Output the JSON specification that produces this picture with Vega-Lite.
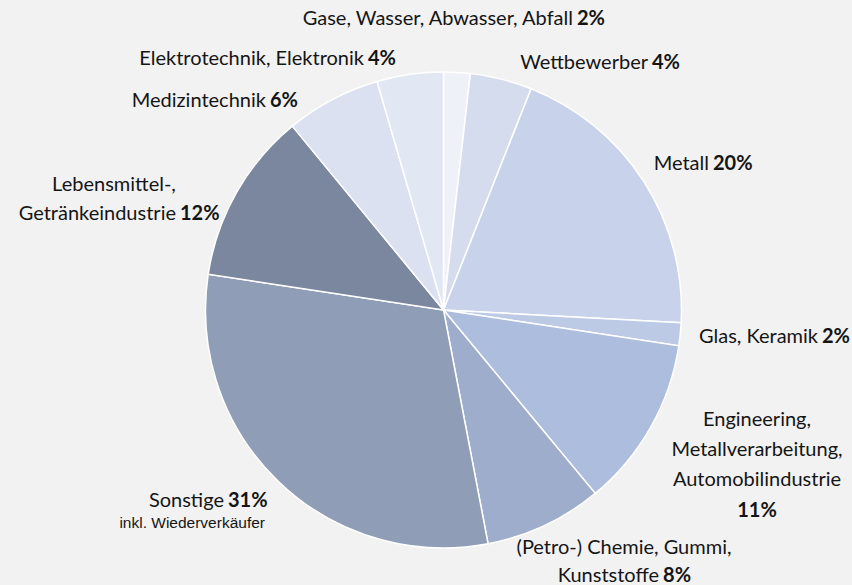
{
 "$schema": "https://vega.github.io/schema/vega-lite/v6.json",
 "width": 817, "height": 550,
 "autosize": {"type": "none"},
 "padding": {"left": 35, "top": 35, "right": 0, "bottom": 0},
 "background": "#f2f2f2",
 "config": {"view": {"stroke": null}, "text": {"font": "Lato", "fontSize": 20, "color": "#151515", "baseline": "alphabetic", "radius": 265}},
 "data": {"values": [
  {"id": "gase", "order": 1, "value": 1.8, "name": "Gase, Wasser, Abwasser, Abfall", "pct": "2%"},
  {"id": "wett", "order": 2, "value": 4.2, "name": "Wettbewerber", "pct": "4%"},
  {"id": "metall", "order": 3, "value": 19.85, "name": "Metall", "pct": "20%"},
  {"id": "glas", "order": 4, "value": 1.55, "name": "Glas, Keramik", "pct": "2%"},
  {"id": "eng", "order": 5, "value": 11.6, "head": ["Engineering,", "Metallverarbeitung,", "Automobilindustrie"], "name": "", "pct": "11%"},
  {"id": "chem", "order": 6, "value": 8.0, "head": "(Petro-) Chemie, Gummi,", "name": "Kunststoffe", "pct": "8%"},
  {"id": "sonst", "order": 7, "value": 30.4, "name": "Sonstige", "pct": "31%", "note": "inkl. Wiederverkäufer"},
  {"id": "lebens", "order": 8, "value": 11.65, "head": "Lebensmittel-,", "name": "Getränkeindustrie", "pct": "12%"},
  {"id": "med", "order": 9, "value": 6.45, "name": "Medizintechnik", "pct": "6%"},
  {"id": "elek", "order": 10, "value": 4.5, "name": "Elektrotechnik, Elektronik", "pct": "4%"}
 ]},
 "encoding": {
  "theta": {"field": "value", "type": "quantitative", "stack": true},
  "order": {"field": "order", "type": "quantitative"},
  "detail": {"field": "id", "type": "nominal"}
 },
 "layer": [
  {"mark": {"type": "arc", "outerRadius": 238, "stroke": "#ffffff", "strokeWidth": 1.5},
   "encoding": {"color": {"field": "id", "type": "nominal", "legend": null,
     "scale": {"domain": ["gase", "wett", "metall", "glas", "eng", "chem", "sonst", "lebens", "med", "elek"],
               "range": ["#eef2f8", "#d5dcee", "#c8d3eb", "#bdcae6", "#acbddd", "#9eadcb", "#8f9db6", "#7b879e", "#dbe1f1", "#e2e7f4"]}}}},

  {"mark": {"type": "text", "align": "right", "dx": 114.5, "dy": -20.4}, "encoding": {"text": {"condition": {"test": "datum.id === 'gase'", "field": "name"}, "value": ""}}},
  {"mark": {"type": "text", "align": "left", "fontWeight": "bold", "dx": 118.5, "dy": -20.4}, "encoding": {"text": {"condition": {"test": "datum.id === 'gase'", "field": "pct"}, "value": ""}}},

  {"mark": {"type": "text", "align": "right", "dx": 140.2, "dy": 16.4}, "encoding": {"text": {"condition": {"test": "datum.id === 'wett'", "field": "name"}, "value": ""}}},
  {"mark": {"type": "text", "align": "left", "fontWeight": "bold", "dx": 144.2, "dy": 16.4}, "encoding": {"text": {"condition": {"test": "datum.id === 'wett'", "field": "pct"}, "value": ""}}},

  {"mark": {"type": "text", "align": "right", "dx": 42.4, "dy": 3}, "encoding": {"text": {"condition": {"test": "datum.id === 'metall'", "field": "name"}, "value": ""}}},
  {"mark": {"type": "text", "align": "left", "fontWeight": "bold", "dx": 46.4, "dy": 3}, "encoding": {"text": {"condition": {"test": "datum.id === 'metall'", "field": "pct"}, "value": ""}}},

  {"mark": {"type": "text", "align": "right", "dx": 110.9, "dy": 6}, "encoding": {"text": {"condition": {"test": "datum.id === 'glas'", "field": "name"}, "value": ""}}},
  {"mark": {"type": "text", "align": "left", "fontWeight": "bold", "dx": 114.9, "dy": 6}, "encoding": {"text": {"condition": {"test": "datum.id === 'glas'", "field": "pct"}, "value": ""}}},

  {"mark": {"type": "text", "align": "center", "dx": 82.9, "dy": -14.6, "lineHeight": 30}, "encoding": {"text": {"condition": {"test": "datum.id === 'eng'", "field": "head"}, "value": ""}}},
  {"mark": {"type": "text", "align": "center", "fontWeight": "bold", "dx": 82.9, "dy": 76.4}, "encoding": {"text": {"condition": {"test": "datum.id === 'eng'", "field": "pct"}, "value": ""}}},

  {"mark": {"type": "text", "align": "center", "dx": 67.7, "dy": 4.2}, "encoding": {"text": {"condition": {"test": "datum.id === 'chem'", "field": "head"}, "value": ""}}},
  {"mark": {"type": "text", "align": "right", "dx": 102.7, "dy": 32.2}, "encoding": {"text": {"condition": {"test": "datum.id === 'chem'", "field": "name"}, "value": ""}}},
  {"mark": {"type": "text", "align": "left", "fontWeight": "bold", "dx": 106.7, "dy": 32.2}, "encoding": {"text": {"condition": {"test": "datum.id === 'chem'", "field": "pct"}, "value": ""}}},

  {"mark": {"type": "text", "align": "right", "dx": -35.7, "dy": 6.1}, "encoding": {"text": {"condition": {"test": "datum.id === 'sonst'", "field": "name"}, "value": ""}}},
  {"mark": {"type": "text", "align": "left", "fontWeight": "bold", "dx": -31.7, "dy": 6.1}, "encoding": {"text": {"condition": {"test": "datum.id === 'sonst'", "field": "pct"}, "value": ""}}},
  {"mark": {"type": "text", "align": "right", "font": "Liberation Sans", "fontSize": 15.5, "dx": 5.3, "dy": 27.1}, "encoding": {"text": {"condition": {"test": "datum.id === 'sonst'", "field": "note"}, "value": ""}}},

  {"mark": {"type": "text", "align": "center", "dx": -99.1, "dy": 11.9}, "encoding": {"text": {"condition": {"test": "datum.id === 'lebens'", "field": "head"}, "value": ""}}},
  {"mark": {"type": "text", "align": "right", "dx": -37.1, "dy": 40.9}, "encoding": {"text": {"condition": {"test": "datum.id === 'lebens'", "field": "name"}, "value": ""}}},
  {"mark": {"type": "text", "align": "left", "fontWeight": "bold", "dx": -33.1, "dy": 40.9}, "encoding": {"text": {"condition": {"test": "datum.id === 'lebens'", "field": "pct"}, "value": ""}}},

  {"mark": {"type": "text", "align": "right", "dx": -53.9, "dy": 31.4}, "encoding": {"text": {"condition": {"test": "datum.id === 'med'", "field": "name"}, "value": ""}}},
  {"mark": {"type": "text", "align": "left", "fontWeight": "bold", "dx": -49.9, "dy": 31.4}, "encoding": {"text": {"condition": {"test": "datum.id === 'med'", "field": "pct"}, "value": ""}}},

  {"mark": {"type": "text", "align": "right", "dx": -42.2, "dy": 17.4}, "encoding": {"text": {"condition": {"test": "datum.id === 'elek'", "field": "name"}, "value": ""}}},
  {"mark": {"type": "text", "align": "left", "fontWeight": "bold", "dx": -38.2, "dy": 17.4}, "encoding": {"text": {"condition": {"test": "datum.id === 'elek'", "field": "pct"}, "value": ""}}}
 ]
}
